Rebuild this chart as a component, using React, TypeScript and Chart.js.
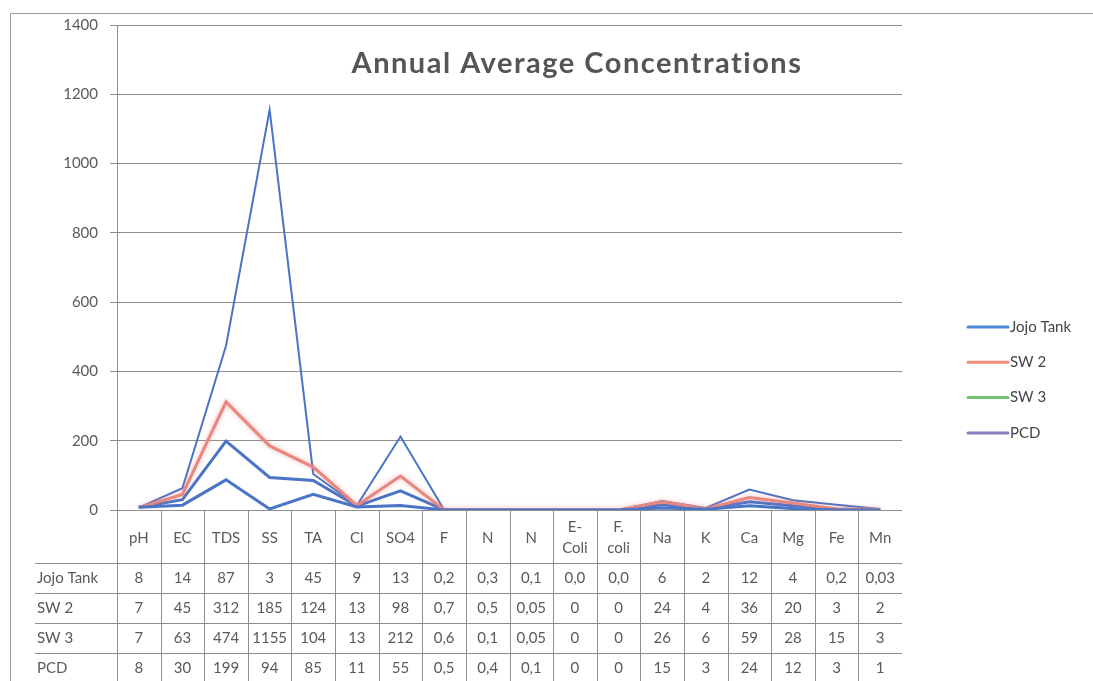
import React, { useEffect, useRef } from "react";
import { Chart, registerables } from "chart.js";

Chart.register(...registerables);

const TITLE = "Annual Average Concentrations";
const categories: string[][] = [
  ["pH"], ["EC"], ["TDS"], ["SS"], ["TA"], ["Cl"], ["SO4"], ["F"], ["N"], ["N"],
  ["E-", "Coli"], ["F.", "coli"], ["Na"], ["K"], ["Ca"], ["Mg"], ["Fe"], ["Mn"],
];
const seriesNames = ["Jojo Tank", "SW 2", "SW 3", "PCD"];
const jojoTank = ["8", "14", "87", "3", "45", "9", "13", "0,2", "0,3", "0,1", "0,0", "0,0", "6", "2", "12", "4", "0,2", "0,03"];
const sw2 = ["7", "45", "312", "185", "124", "13", "98", "0,7", "0,5", "0,05", "0", "0", "24", "4", "36", "20", "3", "2"];
const sw3 = ["7", "63", "474", "1155", "104", "13", "212", "0,6", "0,1", "0,05", "0", "0", "26", "6", "59", "28", "15", "3"];
const pcd = ["8", "30", "199", "94", "85", "11", "55", "0,5", "0,4", "0,1", "0", "0", "15", "3", "24", "12", "3", "1"];
const yTicks = [0, 200, 400, 600, 800, 1000, 1200, 1400];

const seriesRows = [jojoTank, sw2, sw3, pcd];
const lineColors = ["#4a74c6", "#e8877f", "#4a74c6", "#4a74c6"];
const lineWidths = [3, 3, 2, 3];
const legendColors = ["#4f8ad8", "#f28c78", "#72c26e", "#8a7dbf"];

const toNum = (s: string) => parseFloat(s.replace(",", "."));

const FONT = "Lato, 'Open Sans', sans-serif";
const TEXT = "#5a5a5a";
const LINE = "#8e8e8e";

export default function App() {
  const ref = useRef<HTMLCanvasElement | null>(null);

  useEffect(() => {
    if (!ref.current) return;

    const overlay = {
      id: "overlay",
      beforeDatasetDraw(chart: any, args: any) {
        const ctx = chart.ctx;
        ctx.save();
        if (args.index === 1) {
          ctx.shadowColor = "rgba(240,120,120,0.55)";
          ctx.shadowBlur = 5;
        }
      },
      afterDatasetDraw(chart: any) {
        chart.ctx.restore();
      },
      afterDraw(chart: any) {
        const ctx = chart.ctx as CanvasRenderingContext2D;
        const area = chart.chartArea;
        const xs = chart.scales.x;
        const n = categories.length;
        const colW = (area.right - area.left) / n;
        ctx.save();

        // outer border
        ctx.strokeStyle = "#9a9a9a";
        ctx.lineWidth = 1;
        ctx.beginPath();
        ctx.moveTo(10.5, 681);
        ctx.lineTo(10.5, 13.5);
        ctx.lineTo(1093, 13.5);
        ctx.stroke();

        // title
        ctx.fillStyle = "#555555";
        ctx.font = `bold 29px ${FONT}`;
        (ctx as any).letterSpacing = "1.5px";
        ctx.textAlign = "center";
        ctx.textBaseline = "middle";
        ctx.fillText(TITLE, 577, 64);
        (ctx as any).letterSpacing = "0px";

        // legend
        ctx.font = `15px ${FONT}`;
        ctx.textAlign = "left";
        seriesNames.forEach((name, i) => {
          const y = 327 + i * 35.3;
          ctx.strokeStyle = legendColors[i];
          ctx.lineWidth = 3;
          ctx.lineCap = "round";
          ctx.beginPath();
          ctx.moveTo(968, y);
          ctx.lineTo(1008, y);
          ctx.stroke();
          ctx.fillStyle = "#444444";
          ctx.fillText(name, 1010, y);
        });

        // data table
        const top = area.bottom;
        const headerBottom = 563;
        const rowH = 30;
        const labelLeft = 35;
        ctx.strokeStyle = LINE;
        ctx.lineWidth = 1;
        ctx.lineCap = "butt";
        for (let r = 0; r < seriesRows.length; r++) {
          const y = Math.round(headerBottom + r * rowH) + 0.5;
          ctx.beginPath();
          ctx.moveTo(labelLeft, y);
          ctx.lineTo(area.right, y);
          ctx.stroke();
        }
        for (let c = 0; c < n; c++) {
          const x = Math.round(area.left + c * colW) + 0.5;
          ctx.beginPath();
          ctx.moveTo(x, top);
          ctx.lineTo(x, 681);
          ctx.stroke();
        }

        ctx.fillStyle = TEXT;
        ctx.font = `15px ${FONT}`;
        ctx.textAlign = "center";
        categories.forEach((lab, c) => {
          const cx = xs.getPixelForValue(c);
          if (lab.length === 1) {
            ctx.fillText(lab[0], cx, 538);
          } else {
            ctx.fillText(lab[0], cx, 527);
            ctx.fillText(lab[1], cx, 548);
          }
        });
        seriesRows.forEach((row, r) => {
          const cy = headerBottom + r * rowH + rowH / 2;
          ctx.textAlign = "left";
          ctx.fillText(seriesNames[r], 37, cy);
          ctx.textAlign = "center";
          row.forEach((v, c) => {
            ctx.fillText(v, xs.getPixelForValue(c), cy);
          });
        });
        ctx.restore();
      },
    };

    const chart = new Chart(ref.current, {
      type: "line",
      data: {
        labels: categories.map((c) => c.join(" ")),
        datasets: seriesRows.map((row, i) => ({
          label: seriesNames[i],
          data: row.map(toNum),
          borderColor: lineColors[i],
          backgroundColor: lineColors[i],
          borderWidth: lineWidths[i],
          pointRadius: 0,
          tension: 0,
          fill: false,
        })),
      },
      options: {
        responsive: false,
        animation: false,
        layout: { padding: { left: 0, right: 191, top: 25, bottom: 171 } },
        plugins: {
          legend: { display: false },
          title: { display: false },
          tooltip: { enabled: false },
        },
        scales: {
          x: {
            type: "category",
            offset: true,
            display: false,
          },
          y: {
            min: 0,
            max: 1400,
            afterBuildTicks: (scale: any) => {
              scale.ticks = yTicks.map((v) => ({ value: v }));
            },
            afterFit: (scale: any) => {
              scale.width = 117;
            },
            ticks: {
              color: TEXT,
              font: { family: FONT, size: 15 },
              padding: 12,
              callback: (v: any) => String(v),
            },
            grid: {
              color: LINE,
              tickLength: 7,
              drawTicks: true,
            },
            border: { display: true, color: LINE },
          },
        },
      },
      plugins: [overlay],
    });
    return () => chart.destroy();
  }, []);

  return (
    <div style={{ position: "fixed", left: 0, top: 0, width: 1093, height: 681, background: "#fff" }}>
      <canvas ref={ref} width={1093} height={681} style={{ display: "block" }} />
    </div>
  );
}
